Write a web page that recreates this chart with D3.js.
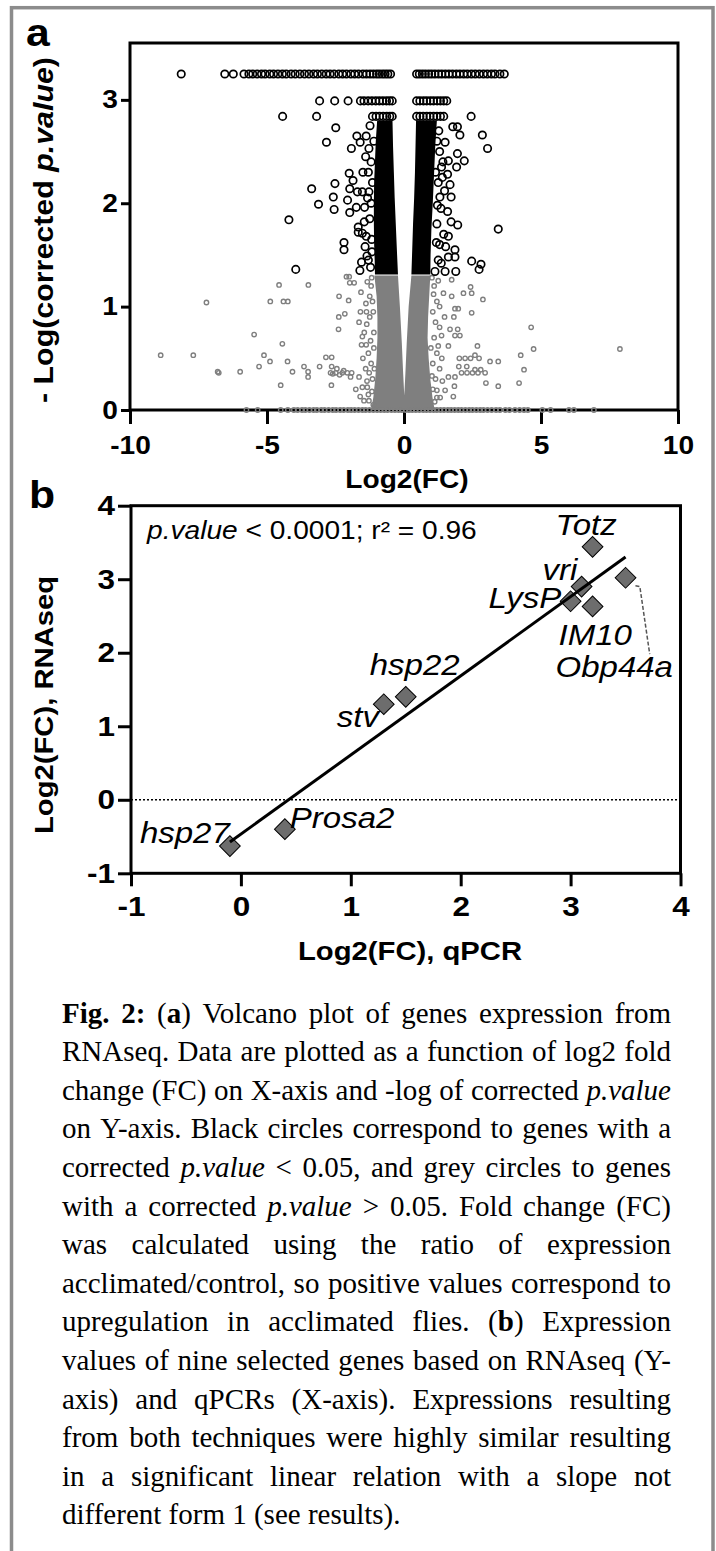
<!DOCTYPE html>
<html><head><meta charset="utf-8">
<script src="https://cdn.jsdelivr.net/npm/d3@7"></script>
<style>html,body{margin:0;padding:0;background:#fff;} svg{display:block;}</style>
</head><body>
<svg id="fig" width="716" height="1551"></svg>
<script>
// ================= DATA =================
// Panel a : volcano plot (x = log2 fold change, y = -log10 corrected p)
const volcanoXTicks = [-10, -5, 0, 5, 10];
const volcanoYTicks = [0, 1, 2, 3];
const sigRowLevels = [3.25, 2.99, 2.84];
const sigRowTopX = [-8.13,-6.54,-6.23,-5.84,-5.66,-5.52,-5.36,-5.2,-5.07,-4.9,-4.76,-4.6,-4.44,-4.3,-4.12,-3.97,-3.8,-3.63,-3.47,-3.3,-3.16,-3.0,-2.84,-2.7,-2.55,-2.38,-2.24,-2.1,-1.94,-1.8,-1.66,-1.5,-1.37,-1.24,-1.12,-1.0,-0.9,-0.79,-0.69,-0.59,-0.49,
  0.46,0.56,0.67,0.78,0.9,1.01,1.13,1.26,1.38,1.51,1.64,1.77,1.91,2.04,2.18,2.31,2.46,2.6,2.75,2.9,3.04,3.19,3.32,3.5,3.66];
const sigRow2X = [-3.08,-2.53,-2.04,-1.59,-1.46,-1.31,-1.17,-1.03,-0.9,-0.77,-0.64,-0.53,-0.43,
  0.46,0.58,0.71,0.83,0.96,1.08,1.21,1.33,1.45,1.56];
const sigRow3X = [-4.43,-3.19,-1.15,-1.02,-0.89,-0.76,-0.63,-0.52,-0.43,
  0.46,0.58,0.7,0.83,0.95,1.08,1.2,1.33,1.45,2.45];
const sigScatter = [
  [-2.49,2.73],[-1.72,2.65],[-1.38,2.65],[-2.83,2.59],[-1.6,2.59],[-1.92,2.53],[-1.28,2.53],[-2.0,2.29],
  [-2.52,2.19],[-3.37,2.14],[-1.98,2.14],[-1.7,2.11],[-1.52,2.11],[-1.28,2.11],[-2.58,2.06],[-2.06,2.03],
  [-3.12,1.99],[-1.74,1.96],[-1.44,1.96],[-2.55,1.94],[-1.98,1.91],[-4.2,1.84],[-1.67,1.77],[-1.67,1.72],
  [-2.19,1.62],[-2.19,1.55],[-3.95,1.36],[-1.42,1.58],[-1.35,1.49],[-1.55,1.43],[-1.61,1.35],[-1.52,1.71],
  [-1.2,2.4],[-1.15,2.2],[-1.25,1.85],[-1.18,1.65],[-1.3,1.45],[-1.22,1.38],[-1.1,2.6],[-1.2,2.0],[-1.3,2.3],
  [-1.4,2.45],[-1.33,2.05],[-1.45,1.82],[-1.17,1.53],[-1.24,2.75],[-1.5,2.3],[-1.38,1.68],[-1.86,2.22],
  [1.78,2.74],[1.95,2.74],[2.04,2.66],[2.86,2.66],[1.5,2.59],[3.05,2.53],[1.95,2.48],[2.2,2.41],[1.62,2.41],
  [1.92,2.35],[1.37,2.35],[1.59,2.28],[1.68,2.18],[1.72,2.06],[1.31,2.06],[1.59,1.92],[1.72,1.82],[1.96,1.79],
  [3.44,1.75],[1.62,1.68],[1.86,1.55],[1.86,1.48],[1.62,1.48],[2.47,1.44],[2.81,1.41],[2.74,1.36],[1.89,1.34],
  [1.5,1.34],[1.13,1.34],[1.2,2.6],[1.3,2.5],[1.25,2.2],[1.35,1.95],[1.2,1.8],[1.3,1.6],[1.25,1.45],[1.15,2.3],
  [1.4,2.25],[1.45,1.7],[1.27,2.7],[1.48,2.12],[1.22,1.98],[1.52,1.58],[1.36,1.42],[1.18,1.62],[1.42,2.4]
];
const nsScatter = [
  [-2.1,1.29],[-2.0,1.29],[-1.98,1.23],[-1.82,1.23],[-4.56,1.21],[-3.49,1.21],[-1.34,1.24],[-1.57,1.14],
  [-2.37,1.1],[-1.25,1.1],[-2.02,1.06],[-4.88,1.05],[-4.4,1.05],[-4.24,1.05],[-7.21,1.04],[-1.39,1.03],
  [-1.59,0.95],[-1.37,0.95],[-2.16,0.93],[-2.38,0.9],[-1.64,0.85],[-1.36,0.83],[-2.39,0.78],[-5.47,0.73],
  [-1.52,0.71],[-4.44,0.64],[-1.55,0.63],[-1.38,0.63],[-8.88,0.53],[-7.69,0.53],[-5.11,0.53],[-2.85,0.51],
  [-2.64,0.51],[-4.89,0.47],[-4.25,0.47],[-5.29,0.42],[-3.65,0.42],[-3.08,0.42],[-2.64,0.42],[-6.8,0.37],
  [-6.76,0.36],[-5.98,0.37],[-4.07,0.37],[-3.5,0.37],[-2.68,0.36],[-2.49,0.36],[-2.25,0.36],[-2.07,0.36],
  [-1.91,0.36],[-3.5,0.32],[-1.95,0.32],[-1.64,0.32],[-4.5,0.24],[-2.65,0.24],[-1.76,0.2],[-1.52,0.22],
  [-1.34,0.22],[-1.46,0.09],[-1.28,0.09],[-1.2,1.2],[-1.15,1.05],[-1.25,0.9],[-1.1,0.75],[-1.3,0.55],
  [-1.2,0.45],[-1.15,0.3],[-1.4,0.4],[-1.3,0.15],[-1.1,0.6],[-1.45,0.75],[-1.35,0.28],[-2.2,0.38],
  [-2.35,0.34],[-2.6,0.35],[-2.45,0.4],[-1.18,1.28],[-1.12,0.95],[-1.22,0.67],[-1.08,0.4],[-1.17,0.18],
  [-1.27,0.36],[-1.5,0.5],[-1.6,0.13],[-1.12,0.05],
  [1.74,1.26],[2.43,1.19],[2.17,1.13],[2.47,1.13],[1.44,1.13],[1.74,1.1],[2.88,1.07],[1.86,0.98],[1.98,0.98],
  [2.47,0.94],[1.82,0.9],[4.64,0.8],[1.68,0.78],[1.96,0.78],[2.04,0.72],[1.86,0.72],[1.37,0.72],[2.68,0.62],
  [1.62,0.62],[1.25,0.62],[4.73,0.59],[7.88,0.59],[4.26,0.53],[2.59,0.53],[2.02,0.5],[2.23,0.5],[2.43,0.5],
  [2.74,0.5],[3.14,0.47],[3.44,0.47],[2.0,0.42],[2.29,0.42],[4.38,0.39],[2.59,0.39],[2.8,0.39],[2.1,0.36],
  [2.3,0.36],[2.5,0.36],[2.7,0.36],[2.96,0.36],[1.62,0.32],[1.86,0.32],[2.99,0.26],[3.44,0.23],[4.2,0.26],
  [1.84,0.23],[1.2,0.19],[1.5,0.19],[1.8,0.13],[1.2,0.12],[1.32,0.12],[1.1,1.2],[1.2,1.05],[1.05,0.95],
  [1.15,0.85],[1.3,0.8],[1.1,0.7],[1.2,0.55],[1.05,0.45],[1.3,0.4],[1.15,0.3],[1.4,0.28],[1.05,0.2],
  [1.3,1.0],[1.25,1.25],[1.02,1.28],[1.08,1.12],[0.98,0.6],[1.02,0.33],[1.12,0.08],[1.38,0.5],[1.48,0.9]
];
const nsAxisRowX = [-5.75,-5.34,-4.5,-4.24,-4.02,-3.88,-3.72,-3.6,-3.45,-3.3,-3.18,-3.02,-2.9,-2.75,-2.6,-2.48,
  -2.33,-2.2,-2.05,-1.93,-1.8,-1.66,-1.52,-1.4,-1.26,-1.12,-0.98,-0.85,-0.72,-0.6,-0.46,-0.33,-0.2,-0.08,
  0.06,0.18,0.3,0.43,0.56,0.7,0.82,0.95,1.08,1.2,1.33,1.46,1.6,1.72,1.85,1.98,2.1,2.24,2.38,2.5,2.64,2.78,
  2.9,3.05,3.2,3.36,3.5,3.7,3.85,4.05,4.22,4.38,4.52,5.05,5.35,6.02,6.2,6.93];
// outlines of the saturated (over-plotted) clouds
const sigCoreLeft = [[-0.98,2.8],[-1.03,2.6],[-1.06,2.4],[-1.09,2.2],[-1.1,2.0],[-1.1,1.8],[-1.09,1.6],[-1.07,1.45],
  [-1.06,1.31],[-0.22,1.31],[-0.26,1.55],[-0.3,1.8],[-0.34,2.05],[-0.37,2.3],[-0.4,2.55],[-0.42,2.8]];
const sigCoreRight = [[0.44,2.8],[0.42,2.55],[0.4,2.3],[0.37,2.05],[0.33,1.8],[0.3,1.55],[0.27,1.31],[0.96,1.31],
  [0.97,1.5],[1.0,1.75],[1.05,2.0],[1.1,2.3],[1.14,2.55],[1.2,2.8]];
const nsCore = [[-1.08,1.3],[-1.0,1.1],[-0.97,0.9],[-0.97,0.7],[-1.0,0.5],[-1.05,0.3],[-1.12,0.12],[-1.2,0],
  [1.12,0],[1.04,0.12],[0.96,0.3],[0.9,0.5],[0.86,0.7],[0.88,0.9],[0.92,1.1],[0.96,1.3],[0.27,1.3],[0.17,1.0],
  [0.1,0.65],[0.05,0.35],[0.01,0.14],[-0.03,0.35],[-0.08,0.65],[-0.15,1.0],[-0.22,1.3]];

// Panel b : RNAseq vs qPCR
const genes  = ["hsp27","Prosa2","stv","hsp22","LysP","vri","IM10","Totz","Obp44a"];
const qpcr   = [-0.1, 0.4, 1.3, 1.5, 3.0, 3.1, 3.2, 3.2, 3.5];
const rnaseq = [-0.63, -0.4, 1.3, 1.4, 2.7, 2.9, 2.63, 3.44, 3.02];
const bXTicks = [-1, 0, 1, 2, 3, 4];
const bYTicks = [-1, 0, 1, 2, 3, 4];
const obpLeader = [[3.59,2.91],[3.63,2.9],[3.72,1.98]];

const captionLines = [
  "**Fig. 2:** (**a**) Volcano plot of genes expression from",
  "RNAseq. Data are plotted as a function of log2 fold",
  "change (FC) on X-axis and -log of corrected *p.value*",
  "on Y-axis. Black circles correspond to genes with a",
  "corrected *p.value* < 0.05, and grey circles to genes",
  "with a corrected *p.value* > 0.05. Fold change (FC)",
  "was calculated using the ratio of expression",
  "acclimated/control, so positive values correspond to",
  "upregulation in acclimated flies. (**b**) Expression",
  "values of nine selected genes based on RNAseq (Y-",
  "axis) and qPCRs (X-axis). Expressions resulting",
  "from both techniques were highly similar resulting",
  "in a significant linear relation with a slope not",
  "different form 1 (see results)."
];

// ================= LAYOUT / STYLE =================
const SANS = "'Liberation Sans', Arial, Helvetica, sans-serif";
const SERIF = "'Liberation Serif', 'Times New Roman', serif";
const SX = 1.125;           // the figure's lettering is stretched along the reading direction
const GREY = "#7f7f7f";
const labelLayout = { hsp27:[-90,-3], Prosa2:[5,-1], stv:[-47,23], hsp22:[-36,-22], LysP:[-82,7],
  vri:[-39,-7], IM10:[-34,39], Totz:[-37,-12], Obp44a:[-70,99] };

const svg = d3.select("#fig");
svg.append("rect").attr("width",716).attr("height",1551).attr("fill","#fff");
svg.append("rect").attr("x",11.5).attr("y",7.7).attr("width",701.5).attr("height",1600)
  .attr("fill","none").attr("stroke","#8c8c8c").attr("stroke-width",3.5);

function addText(parent, x, y, runs, o) {
  const sx = o.sx ?? SX;
  const tr = o.rotate ? `translate(${x},${y}) rotate(${o.rotate})` : `translate(${x},${y}) scale(${sx},1)`;
  const t = parent.append("text").attr("transform", tr)
    .attr("font-family", o.family || SANS).attr("font-size", o.size)
    .attr("font-weight", o.weight || "normal").attr("text-anchor", o.anchor || "start").attr("fill", o.fill || "#000");
  if (o.textLength) t.attr("textLength", o.textLength).attr("lengthAdjust","spacingAndGlyphs");
  (typeof runs === "string" ? [[runs, {}]] : runs).forEach(([s, st]) => {
    const ts = t.append("tspan").text(s);
    if (st.italic) ts.attr("font-style","italic");
    if (st.bold) ts.attr("font-weight","bold");
  });
  return t;
}

function styleAxis(g, size, left, ts, pad) {
  g.attr("font-family", null).attr("font-size", null);
  g.select(".domain").remove();
  g.selectAll(".tick line").attr("stroke","#000").attr("stroke-width",3);
  const tx = g.selectAll(".tick text").attr("font-family",SANS).attr("font-size",size)
    .attr("font-weight","bold").attr("fill","#000").attr("transform",`scale(${SX},1)`);
  if (left) tx.attr("x", -(ts+pad)/SX);
}

// ================= PANEL A =================
const xa = d3.scaleLinear().domain([-10, 10]).range([130, 678]);
const ya = d3.scaleLinear().domain([0, 3.55]).range([410, 43]);
const gA = svg.append("g");
gA.append("rect").attr("x",xa(-10)).attr("y",ya(3.55)).attr("width",xa(10)-xa(-10)).attr("height",ya(0)-ya(3.55))
  .attr("fill","none").attr("stroke","#000").attr("stroke-width",3);
gA.append("g").attr("transform",`translate(0,${ya(0)})`)
  .call(d3.axisBottom(xa).tickValues(volcanoXTicks).tickSize(14).tickSizeOuter(0).tickPadding(12).tickFormat(d=>String(d)))
  .call(g=>styleAxis(g,25,false));
gA.append("g").attr("transform",`translate(${xa(-10)},0)`)
  .call(d3.axisLeft(ya).tickValues(volcanoYTicks).tickSize(9).tickSizeOuter(0).tickPadding(3).tickFormat(d=>String(d)))
  .call(g=>styleAxis(g,25,true,9,3));

const line = d3.line().x(d=>xa(d[0])).y(d=>ya(d[1]));
gA.append("path").attr("d", line(nsCore)+"Z").attr("fill",GREY);
const nsAll = nsScatter.concat(nsAxisRowX.map(x=>[x,0]));
gA.append("g").selectAll("circle").data(nsAll).join("circle")
  .attr("cx",d=>xa(d[0])).attr("cy",d=>ya(d[1])).attr("r",2.2)
  .attr("fill","none").attr("stroke",GREY).attr("stroke-width",1.4);
gA.append("path").attr("d", line(sigCoreLeft)+"Z").attr("fill","#000");
gA.append("path").attr("d", line(sigCoreRight)+"Z").attr("fill","#000");
const sigAll = sigScatter
  .concat(sigRowTopX.map(x=>[x,sigRowLevels[0]]))
  .concat(sigRow2X.map(x=>[x,sigRowLevels[1]]))
  .concat(sigRow3X.map(x=>[x,sigRowLevels[2]]));
gA.append("g").selectAll("circle").data(sigAll).join("circle")
  .attr("cx",d=>xa(d[0])).attr("cy",d=>ya(d[1])).attr("r",3.7)
  .attr("fill","none").attr("stroke","#000").attr("stroke-width",1.7);

addText(gA, 26, 46, "a", {size:38, weight:"bold"});
addText(gA, 407, 488, "Log2(FC)", {size:25, weight:"bold", anchor:"middle"});
addText(gA, 53, 230, [["- Log(corrected ",{}],["p.value",{italic:true}],[")",{}]],
  {size:27, weight:"bold", anchor:"middle", rotate:-90, textLength:346});

// ================= PANEL B =================
const xb = d3.scaleLinear().domain([-1, 4]).range([131, 680.5]);
const yb = d3.scaleLinear().domain([-1, 4]).range([873.3, 505.7]);
const gB = svg.append("g");
gB.append("rect").attr("x",xb(-1)).attr("y",yb(4)).attr("width",xb(4)-xb(-1)).attr("height",yb(-1)-yb(4))
  .attr("fill","none").attr("stroke","#000").attr("stroke-width",3);
gB.append("g").attr("transform",`translate(0,${yb(-1)})`)
  .call(d3.axisBottom(xb).tickValues(bXTicks).tickSize(13).tickSizeOuter(0).tickPadding(10).tickFormat(d=>String(d)))
  .call(g=>styleAxis(g,28,false));
gB.append("g").attr("transform",`translate(${xb(-1)},0)`)
  .call(d3.axisLeft(yb).tickValues(bYTicks).tickSize(13).tickSizeOuter(0).tickPadding(3).tickFormat(d=>String(d)))
  .call(g=>styleAxis(g,28,true,13,3));

gB.append("line").attr("x1",xb(-1)).attr("x2",xb(4)).attr("y1",yb(0)).attr("y2",yb(0))
  .attr("stroke","#000").attr("stroke-width",1.5).attr("stroke-dasharray","2,2");
gB.append("path").attr("d", d3.line().x(d=>xb(d[0])).y(d=>yb(d[1]))(obpLeader))
  .attr("fill","none").attr("stroke","#555").attr("stroke-width",1.5).attr("stroke-dasharray","4,2");

const pts = genes.map((g,i)=>({g, x:qpcr[i], y:rnaseq[i]}));
gB.append("g").selectAll("path").data(pts).join("path")
  .attr("d", d3.symbol(d3.symbolSquare, 215)())
  .attr("transform", d=>`translate(${xb(d.x)},${yb(d.y)}) rotate(45)`)
  .attr("fill","#6d6d6d").attr("stroke","#000").attr("stroke-width",1);

// least-squares fit of the nine genes
const mx = d3.mean(qpcr), my = d3.mean(rnaseq);
const slope = d3.sum(qpcr.map((x,i)=>(x-mx)*(rnaseq[i]-my))) / d3.sum(qpcr.map(x=>(x-mx)**2));
const icpt = my - slope*mx;
const [x0,x1] = d3.extent(qpcr);
gB.append("line").attr("x1",xb(x0)).attr("y1",yb(icpt+slope*x0)).attr("x2",xb(x1)).attr("y2",yb(icpt+slope*x1))
  .attr("stroke","#000").attr("stroke-width",3);

pts.forEach(d=>{
  const [dx,dy] = labelLayout[d.g];
  addText(gB, xb(d.x)+dx, yb(d.y)+dy, [[d.g,{italic:true}]], {size:30, sx:1.1});
});
addText(gB, 147, 539, [["p.value",{italic:true}],[" < 0.0001; r² = 0.96",{}]], {size:25});

addText(gB, 29, 508, "b", {size:38, weight:"bold"});
addText(gB, 410, 960, "Log2(FC), qPCR", {size:26, weight:"bold", anchor:"middle"});
addText(gB, 53, 705, "Log2(FC), RNAseq", {size:26, weight:"bold", anchor:"middle", rotate:-90, textLength:258});

// ================= CAPTION =================
function parseLine(s) {
  const words = []; let cur = []; let bold=false, ital=false, buf="";
  const flush = ()=>{ if (buf) { cur.push({t:buf,b:bold,i:ital}); buf=""; } };
  for (let k=0;k<s.length;k++) {
    if (s[k]==="*" && s[k+1]==="*") { flush(); bold=!bold; k++; continue; }
    if (s[k]==="*") { flush(); ital=!ital; continue; }
    if (s[k]===" ") { flush(); if (cur.length) words.push(cur); cur=[]; continue; }
    buf += s[k];
  }
  flush(); if (cur.length) words.push(cur);
  return words;
}
const CAP_X0 = 62, CAP_X1 = 671, CAP_Y0 = 1022.5, CAP_DY = 38.6, CAP_SIZE = 29;
const gC = svg.append("g");
captionLines.forEach((ln, li) => {
  const words = parseLine(ln);
  const g = gC.append("g").attr("transform",`translate(${CAP_X0},${CAP_Y0+li*CAP_DY})`);
  const nodes = words.map(w => {
    const t = g.append("text").attr("font-family",SERIF).attr("font-size",CAP_SIZE).attr("fill","#000");
    w.forEach(r => { const ts=t.append("tspan").text(r.t); if (r.b) ts.attr("font-weight","bold"); if (r.i) ts.attr("font-style","italic"); });
    return t;
  });
  const widths = nodes.map(n=>n.node().getComputedTextLength());
  const W = CAP_X1-CAP_X0;
  const last = li === captionLines.length-1;
  const gap = last ? CAP_SIZE*0.25 : (W - d3.sum(widths))/(words.length-1);
  let x = 0;
  nodes.forEach((n,i)=>{ n.attr("x",x); x += widths[i]+gap; });
});
</script>
</body></html>
